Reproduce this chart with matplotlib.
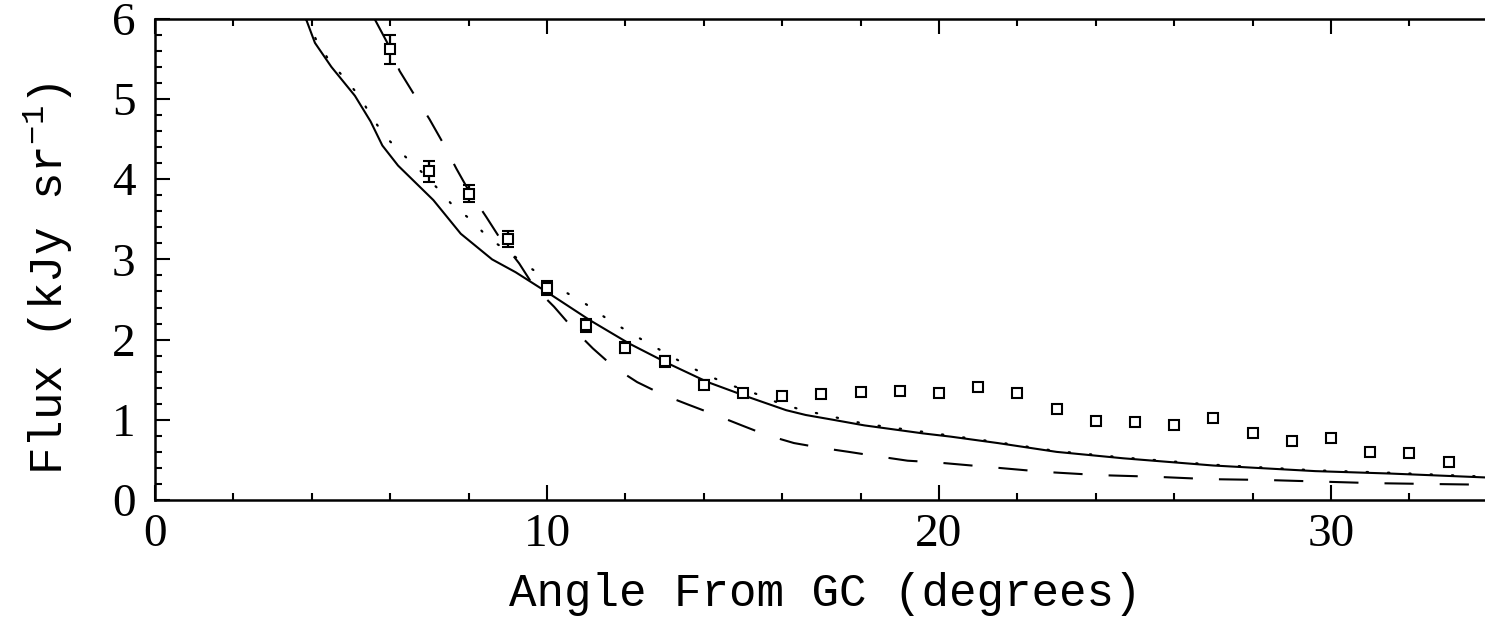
import numpy as np
import matplotlib
matplotlib.use('Agg')
from matplotlib import pyplot as plt

# measured points with error bars
pt_x = np.arange(6, 34)
pt_y = [5.62, 4.10, 3.82, 3.26, 2.64, 2.18, 1.90, 1.73, 1.44, 1.34,
        1.30, 1.32, 1.35, 1.36, 1.34, 1.41, 1.34, 1.14, 0.98, 0.97,
        0.94, 1.02, 0.83, 0.74, 0.77, 0.60, 0.58, 0.48]
pt_err = [0.18, 0.13, 0.11, 0.10, 0.09, 0.08, 0.07, 0.07, 0.06, 0.05,
          0.05, 0.05, 0.05, 0.05, 0.05, 0.05, 0.05, 0.04, 0.04, 0.04,
          0.04, 0.04, 0.04, 0.04, 0.04, 0.04, 0.04, 0.04]

# solid model
solid_x = [3.85, 4.08, 4.5, 5.1, 5.5, 5.8, 6.2, 7.1, 7.8, 8.6, 9.2, 10.1,
           11.1, 12.1, 13.1, 14.1, 15.1, 16.1, 16.6, 17.3, 18.1, 19.6,
           20.3, 21.5, 23.0, 24.7, 27.0, 29.6, 31.5, 34.0]
solid_y = [6.0, 5.7, 5.4, 5.04, 4.72, 4.42, 4.17, 3.74, 3.32, 3.0, 2.84, 2.56,
           2.24, 1.95, 1.70, 1.47, 1.29, 1.12, 1.06, 1.0, 0.93, 0.83,
           0.79, 0.71, 0.60, 0.52, 0.43, 0.36, 0.33, 0.28]

# dotted model
dot_x = [3.85, 4.1, 4.44, 4.85, 5.24, 5.53, 5.9, 6.3, 6.76, 7.18, 7.6, 8.07,
         8.5, 9.0, 9.47, 9.97, 10.48, 11.0, 11.5, 12.0, 12.56, 13.07, 13.6,
         14.16, 14.7, 15.3, 15.86, 16.45, 17.0, 18.1, 19.6, 21.5, 23.0,
         24.7, 27.0, 29.6, 31.5, 34.0]
dot_y = [6.0, 5.75, 5.48, 5.25, 5.02, 4.77, 4.52, 4.32, 4.11, 3.9, 3.67, 3.49,
         3.27, 3.1, 2.93, 2.76, 2.59, 2.44, 2.27, 2.12, 1.96, 1.82, 1.67,
         1.54, 1.43, 1.33, 1.22, 1.13, 1.07, 0.95, 0.85, 0.72, 0.61,
         0.53, 0.44, 0.37, 0.34, 0.29]

# dashed model
dash_x = [5.6, 5.96, 6.24, 6.63, 7.0, 7.36, 7.69, 8.0, 8.45, 8.83, 9.29, 9.67,
          10.18, 10.66, 11.17, 11.7, 12.3, 12.97, 13.6, 14.3, 14.97, 15.6,
          16.3, 17.0, 17.7, 18.5, 19.2, 19.9, 20.6, 21.3, 22.7, 24.1, 25.5,
          26.9, 28.3, 29.7, 31.1, 32.5, 34.0]
dash_y = [6.0, 5.67, 5.35, 5.04, 4.75, 4.44, 4.13, 3.86, 3.53, 3.24, 2.95, 2.66,
          2.41, 2.14, 1.89, 1.66, 1.47, 1.31, 1.19, 1.06, 0.93, 0.81,
          0.71, 0.65, 0.60, 0.54, 0.49, 0.47, 0.44, 0.41, 0.35, 0.31, 0.29,
          0.26, 0.25, 0.23, 0.21, 0.20, 0.19]

plt.rcParams['mathtext.fontset'] = 'custom'
plt.rcParams['mathtext.rm'] = 'Liberation Mono'
plt.rcParams['mathtext.it'] = 'Liberation Mono'

W, H = 1485, 628
fig = plt.figure(figsize=(W / 100, H / 100), dpi=100)

# axes placed in pixels; right edge runs off the figure like the original
x0, y0 = 155, 500
px_x, px_y = 39.2, 80.2
xmax = 35
ax = fig.add_axes([x0 / W, (H - y0) / H, xmax * px_x / W, 6 * px_y / H])

ax.plot(solid_x, solid_y, color='black', lw=1.5)
ax.plot(dot_x, dot_y, color='black', lw=1.6, linestyle=(0, (0.6, 9)),
        dash_capstyle='round')
ax.plot(dash_x, dash_y, color='black', lw=1.5, linestyle=(0, (14, 12.5)))
ax.errorbar(pt_x, pt_y, yerr=pt_err, fmt='s', mfc='white', mec='black',
            ms=7, mew=1.5, ecolor='black', elinewidth=1.6, capsize=4,
            capthick=1.6)

ax.set_xlim(0, xmax)
ax.set_ylim(0, 6)
ax.set_xticks([0, 10, 20, 30])
ax.set_xticks(np.arange(0, 36, 2), minor=True)
ax.set_yticks(range(7))
ax.set_yticks(np.arange(0, 6.01, 0.2), minor=True)

for s in ax.spines.values():
    s.set_linewidth(1.8)
ax.tick_params(which='both', direction='in', top=True, right=False,
               width=1.5)
ax.tick_params(which='major', length=11)
ax.tick_params(which='minor', length=5)
ax.tick_params(axis='x', pad=10)
ax.tick_params(axis='y', pad=14)
for lab in ax.get_xticklabels() + ax.get_yticklabels():
    lab.set_family('Liberation Serif')
    lab.set_fontsize(34)

ax.set_xlabel('Angle From GC (degrees)', family='Liberation Mono',
              fontsize=33)
ax.xaxis.set_label_coords((825 - x0) / (xmax * px_x), -0.15)
ax.set_ylabel('Flux (kJy sr$^{-1}$)', family='Liberation Mono', fontsize=33)
ax.yaxis.set_label_coords(-0.058, 0.46)

fig.savefig('out.png', dpi=100)
